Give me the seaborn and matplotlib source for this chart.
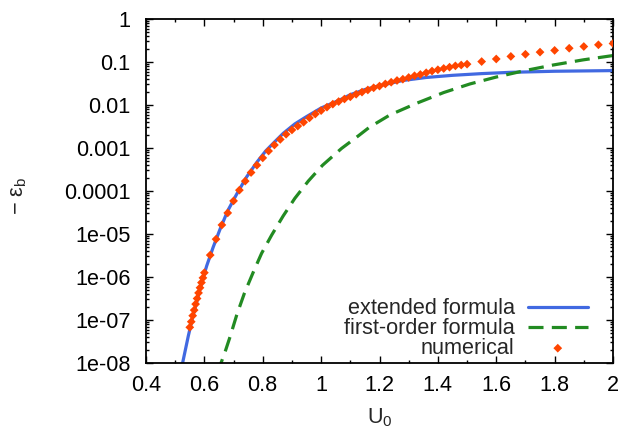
import numpy as np
import pandas as pd
import matplotlib
matplotlib.use("Agg")
import matplotlib.pyplot as plt
import seaborn as sns
from matplotlib.ticker import FixedLocator, LogLocator, NullFormatter, MultipleLocator

# ---------------- data ----------------
U_numerical = [0.550, 0.555, 0.560, 0.565, 0.570, 0.575, 0.580, 0.585, 0.590, 0.595, 0.600,
               0.62, 0.64, 0.66, 0.68, 0.70, 0.72, 0.74, 0.76, 0.78, 0.80,
               0.82, 0.84, 0.86, 0.88, 0.90, 0.92, 0.94, 0.96, 0.98, 1.00,
               1.02, 1.04, 1.06, 1.08, 1.10, 1.12, 1.14, 1.16, 1.18, 1.20,
               1.22, 1.24, 1.26, 1.28, 1.30, 1.32, 1.34, 1.36, 1.38, 1.40,
               1.42, 1.44, 1.46, 1.48, 1.50,
               1.55, 1.60, 1.65, 1.70, 1.75, 1.80, 1.85, 1.90, 1.95, 2.00]
log_eps_numerical = [-7.17, -7.04, -6.90, -6.77, -6.63, -6.50, -6.37, -6.25, -6.13, -6.02, -5.90,
                     -5.49, -5.12, -4.79, -4.51, -4.23, -3.98, -3.77, -3.57, -3.40, -3.23,
                     -3.07, -2.93, -2.80, -2.68, -2.58, -2.49, -2.40, -2.30, -2.21, -2.13,
                     -2.05, -1.98, -1.92, -1.86, -1.81, -1.75, -1.70, -1.65, -1.60, -1.56,
                     -1.51, -1.47, -1.43, -1.40, -1.36, -1.32, -1.29, -1.25, -1.21, -1.18,
                     -1.15, -1.12, -1.09, -1.07, -1.05,
                     -0.99, -0.93, -0.87, -0.82, -0.77, -0.73, -0.68, -0.64, -0.60, -0.57]

U_extended = [0.520, 0.526, 0.545, 0.560, 0.575, 0.590, 0.608, 0.630, 0.653, 0.680,
              0.711, 0.745, 0.780, 0.810, 0.836, 0.870, 0.910, 0.950, 1.000, 1.065,
              1.100, 1.150, 1.200, 1.280, 1.360, 1.450, 1.550, 1.650, 1.800, 2.000]
log_eps_extended = [-8.15, -7.98, -7.37, -6.93, -6.55, -6.15, -5.74, -5.31, -4.90, -4.46,
                    -4.07, -3.67, -3.33, -3.07, -2.89, -2.66, -2.44, -2.27, -2.07, -1.88,
                    -1.76, -1.64, -1.55, -1.43, -1.36, -1.31, -1.27, -1.24, -1.215, -1.20]

U_first = [0.650, 0.657, 0.671, 0.688, 0.711, 0.737, 0.768, 0.796, 0.831, 0.870,
           0.910, 0.956, 1.005, 1.070, 1.127, 1.165, 1.236, 1.327, 1.420, 1.510,
           1.600, 1.698, 1.795, 1.898, 2.000]
log_eps_first = [-8.25, -8.00, -7.74, -7.39, -6.88, -6.38, -5.88, -5.45, -5.02, -4.58,
                 -4.17, -3.77, -3.40, -3.01, -2.72, -2.52, -2.23, -1.96, -1.71, -1.51,
                 -1.35, -1.20, -1.07, -0.95, -0.85]

series_labels = ["extended formula", "first-order formula", "numerical"]
x_ticks = [0.4, 0.6, 0.8, 1.0, 1.2, 1.4, 1.6, 1.8, 2.0]
x_tick_labels = ["0.4", "0.6", "0.8", "1", "1.2", "1.4", "1.6", "1.8", "2"]
y_ticks = [1e-8, 1e-7, 1e-6, 1e-5, 1e-4, 1e-3, 1e-2, 1e-1, 1]
y_tick_labels = ["1e-08", "1e-07", "1e-06", "1e-05", "0.0001", "0.001", "0.01", "0.1", "1"]

FS = 15.6

# ---------------- style ----------------
sns.set_style("ticks")
plt.rcParams['font.family'] = ['Liberation Sans', 'DejaVu Sans']
plt.rcParams['mathtext.fontset'] = 'custom'
plt.rcParams['mathtext.rm'] = 'Liberation Sans'
plt.rcParams['mathtext.it'] = 'Liberation Sans:italic'

fig = plt.figure(figsize=(6.22, 4.30), dpi=100)
ax = fig.add_axes([146 / 622, 67 / 430, 467 / 622, 344 / 430])

ext = pd.DataFrame({"U": U_extended, "eps": 10 ** np.array(log_eps_extended)})
fst = pd.DataFrame({"U": U_first, "eps": 10 ** np.array(log_eps_first)})
num = pd.DataFrame({"U": U_numerical, "eps": 10 ** np.array(log_eps_numerical)})

sns.lineplot(data=ext, x="U", y="eps", ax=ax, color="#4169e1", lw=2.3,
             label=series_labels[0], sort=False, estimator=None, zorder=2)
sns.lineplot(data=fst, x="U", y="eps", ax=ax, color="#228b22", lw=2.3,
             label=series_labels[1], sort=False, estimator=None, zorder=2)
ax.lines[-1].set_dashes([4.7, 2.6])
sns.scatterplot(data=num, x="U", y="eps", ax=ax, marker="D", s=20, color="#ff4500",
                edgecolor="none", linewidth=0, label=series_labels[2], zorder=3)

ax.set_yscale("log")
ax.set_xlim(0.4, 2.0)
ax.set_ylim(1e-8, 1)

ax.xaxis.set_major_locator(FixedLocator(x_ticks))
ax.set_xticklabels(x_tick_labels)
ax.xaxis.set_minor_locator(MultipleLocator(0.1))
ax.yaxis.set_major_locator(FixedLocator(y_ticks))
ax.set_yticklabels(y_tick_labels)
ax.yaxis.set_minor_locator(LogLocator(base=10, subs=np.arange(2, 10), numticks=50))
ax.yaxis.set_minor_formatter(NullFormatter())

ax.tick_params(which="both", direction="in", top=True, right=True, colors="black",
               labelsize=FS, width=1.0)
ax.tick_params(which="major", length=5)
ax.tick_params(which="minor", length=2.5)
ax.tick_params(axis="x", which="major", pad=8.5)
ax.tick_params(axis="y", which="major", pad=11)
for sp in ax.spines.values():
    sp.set_linewidth(1.3)
    sp.set_color("black")
    sp.set_visible(True)

ax.set_xlabel("U$_{0}$", fontsize=FS)
ax.set_ylabel("− ε$_{\\mathrm{b}}$", fontsize=FS)
ax.xaxis.set_label_coords(0.5, -0.127)
ax.yaxis.set_label_coords(-0.25, 0.485)

leg = ax.legend(loc="lower right", bbox_to_anchor=(0.946, 0.012), frameon=False,
                markerfirst=False, handlelength=2.77, handletextpad=0.6,
                labelspacing=-0.06, borderpad=0, borderaxespad=0,
                numpoints=1, scatterpoints=1, fontsize=FS)

fig.savefig("out.png", dpi=100)
